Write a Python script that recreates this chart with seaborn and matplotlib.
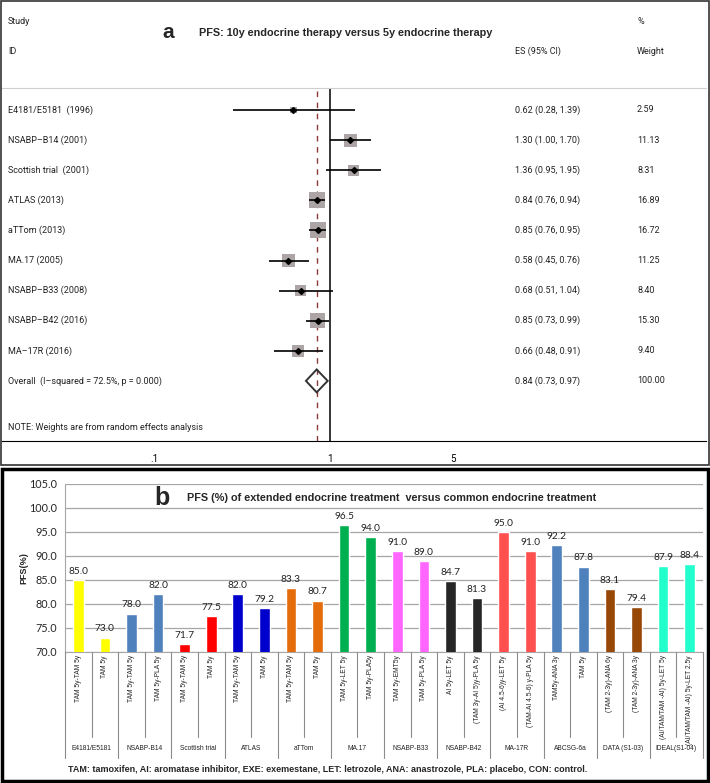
import numpy as np
import pandas as pd
import matplotlib
matplotlib.use("Agg")
import matplotlib.pyplot as plt
import matplotlib.transforms as mtransforms
from matplotlib.lines import Line2D
from matplotlib.patches import Rectangle, Polygon
from matplotlib.ticker import NullLocator
import seaborn as sns

sns.set_style("white")
plt.rcParams['font.family'] = ['Lato', 'DejaVu Sans']

W, H = 710, 783

# ---------- panel a: forest plot ----------
studies = ["E4181/E5181  (1996)", "NSABP–B14 (2001)", "Scottish trial  (2001)",
           "ATLAS (2013)", "aTTom (2013)", "MA.17 (2005)", "NSABP–B33 (2008)",
           "NSABP–B42 (2016)", "MA–17R (2016)"]
es = [0.62, 1.30, 1.36, 0.84, 0.85, 0.58, 0.68, 0.85, 0.66]
ci_lo = [0.28, 1.00, 0.95, 0.76, 0.76, 0.45, 0.51, 0.73, 0.48]
ci_hi = [1.39, 1.70, 1.95, 0.94, 0.95, 0.76, 1.04, 0.99, 0.91]
weights = [2.59, 11.13, 8.31, 16.89, 16.72, 11.25, 8.40, 15.30, 9.40]
overall_label = "Overall  (I–squared = 72.5%, p = 0.000)"
overall = (0.84, 0.73, 0.97)
overall_weight = 100.00
forest_ticks = [0.1, 1, 5]
forest_ticklabels = [".1", "1", "5"]

# ---------- panel b: bar chart ----------
groups = ["E4181/E5181", "NSABP-B14", "Scottish trial", "ATLAS", "aTTom", "MA.17",
          "NSABP-B33", "NSABP-B42", "MA-17R", "ABCSG-6a", "DATA (S1-03)", "IDEAL(S1-04)"]
group_colors = ["#FFFF00", "#4F81BD", "#FF0000", "#0000CC", "#E46C0A", "#00B050",
                "#FF66FF", "#262626", "#FF5050", "#4F81BD", "#974706", "#22FFCC"]
arms = ["TAM 5y-TAM 5y", "TAM 5y",
        "TAM 5y-TAM 5y", "TAM 5y-PLA 5y",
        "TAM 5y-TAM 5y", "TAM 5y",
        "TAM 5y-TAM 5y", "TAM 5y",
        "TAM 5y-TAM 5y", "TAM 5y",
        "TAM 5y-LET 5y", "TAM 5y-PLA5y",
        "TAM 5y-EMT5y", "TAM 5y-PLA 5y",
        "AI 5y-LET 5y", "(TAM 3y-AI 5)y-PLA 5y",
        "(AI 4.5-6)y-LET 5y", "(TAM-AI 4.5-6) y-PLA 5y",
        "TAM5y-ANA 3y", "TAM 5y",
        "(TAM 2-3y)-ANA 6y", "(TAM 2-3y)-ANA 3y",
        "(AI/TAM/TAM -AI) 5y-LET 5y", "(AI/TAM/TAM -AI) 5y-LET 2.5y"]
pfs = [85.0, 73.0, 78.0, 82.0, 71.7, 77.5, 82.0, 79.2, 83.3, 80.7, 96.5, 94.0,
       91.0, 89.0, 84.7, 81.3, 95.0, 91.0, 92.2, 87.8, 83.1, 79.4, 87.9, 88.4]
footnote = ("TAM: tamoxifen, AI: aromatase inhibitor, EXE: exemestane, LET: letrozole, "
            "ANA: anastrozole, PLA: placebo, CON: control.")

FOREST_FONT = ['Liberation Sans Narrow', 'Roboto']
BOLD_FONT = ['Liberation Sans', 'DejaVu Sans']


def fx(px):
    return px / W


def fy(px):
    return 1 - px / H


fig = plt.figure(figsize=(W / 100, H / 100), dpi=100)

# ---- panel a
row0, row_step = 110, 30.1
ax1 = fig.add_axes([fx(2), fy(441), fx(704), (441 - 88) / H])
ax1.set_xscale('log')
ax1.set_xlim(10 ** ((2 - 330) / 176), 10 ** ((706 - 330) / 176))
ax1.set_ylim((441 - row0) / row_step, -(row0 - 88) / row_step)

rows = np.arange(len(studies))
ax1.axvline(1, color='black', lw=1.1, zorder=1)
ax1.axvline(overall[0], color='#8B3A3A', lw=1, ls=(0, (4, 4)), zorder=1)
sns.scatterplot(x=es, y=rows, size=weights, sizes=(7.9 * min(weights), 7.9 * max(weights)),
                size_norm=(min(weights), max(weights)), marker='s', color='#ADA5A5',
                edgecolor='none', legend=False, ax=ax1, zorder=2)
ax1.hlines(rows, ci_lo, ci_hi, color='black', lw=1.2, zorder=3)
ax1.plot(es, rows, 'D', ms=3, color='black', zorder=4)

oy = len(studies)
diamond = Polygon([(overall[1], oy), (overall[0], oy - 0.38), (overall[2], oy),
                   (overall[0], oy + 0.38)], closed=True, fill=False,
                  edgecolor='#333333', lw=1.4, zorder=4)
ax1.add_patch(diamond)

for s in ['left', 'right']:
    ax1.spines[s].set_visible(False)
ax1.spines['top'].set_color('#CFCFCF')
ax1.spines['bottom'].set_color('black')
ax1.set_yticks([])
ax1.set_xticks(forest_ticks)
ax1.set_xticklabels(forest_ticklabels, family=FOREST_FONT, fontsize=7)
ax1.xaxis.set_minor_locator(NullLocator())
ax1.tick_params(axis='x', direction='out', length=6, width=1, colors='black', pad=3)
ax1.patch.set_alpha(0)

trans_a = mtransforms.blended_transform_factory(fig.transFigure, ax1.transData)
labels_a = studies + [overall_label]
es_text = [f"{e:.2f} ({l:.2f}, {h:.2f})" for e, l, h in zip(es, ci_lo, ci_hi)]
es_text.append(f"{overall[0]:.2f} ({overall[1]:.2f}, {overall[2]:.2f})")
w_text = [f"{w:.2f}" for w in weights] + [f"{overall_weight:.2f}"]
for i in range(len(labels_a)):
    ax1.text(fx(8), i, labels_a[i], transform=trans_a, va='center', fontsize=6.5,
             family=FOREST_FONT, color='#222222')
    ax1.text(fx(515), i, es_text[i], transform=trans_a, va='center', fontsize=6.5,
             family=FOREST_FONT, color='#222222')
    ax1.text(fx(637), i, w_text[i], transform=trans_a, va='center', fontsize=6.5,
             family=FOREST_FONT, color='#222222')
ax1.text(fx(8), (427 - row0) / row_step, "NOTE: Weights are from random effects analysis",
         transform=trans_a, va='center', fontsize=6.5, family=FOREST_FONT, color='#222222')

for txt, x, y in [("Study", 8, 21), ("ID", 8, 51), ("%", 637, 21),
                  ("ES (95% CI)", 515, 51), ("Weight", 637, 51)]:
    fig.text(fx(x), fy(y), txt, va='center', fontsize=6.5, family=FOREST_FONT, color='#222222')
fig.text(fx(168), fy(33), "a", ha='center', va='center', fontsize=15, fontweight='bold',
         family=BOLD_FONT)
fig.text(fx(199), fy(33), "PFS: 10y endocrine therapy versus 5y endocrine therapy",
         va='center', fontsize=7.8, fontweight='bold', family=BOLD_FONT)

# ---- panel b
ax2 = fig.add_axes([fx(65), fy(652), fx(703 - 65), (652 - 484) / H])
keys = [f"{g}|{a}|{i}" for i, (g, a) in enumerate(zip(np.repeat(groups, 2), arms))]
df = pd.DataFrame({'key': keys, 'pfs': pfs})
palette = {k: c for k, c in zip(keys, np.repeat(group_colors, 2))}
sns.barplot(data=df, x='key', y='pfs', hue='key', palette=palette, width=0.4,
            saturation=1, legend=False, ax=ax2, zorder=3)
for cont in ax2.containers:
    ax2.bar_label(cont, fmt='%.1f', padding=3, fontsize=7.3, color='#222222')

ax2.set_ylim(70, 105)
ax2.set_xlim(-0.5, len(pfs) - 0.5)
ax2.set_yticks(np.arange(70, 105.1, 5))
ax2.set_yticklabels([f"{v:.1f}" for v in np.arange(70, 105.1, 5)], fontsize=7.8)
ax2.set_xticks([])
ax2.set_xlabel('')
ax2.set_ylabel('PFS(%)', fontsize=6.5, fontweight='bold', family=BOLD_FONT)
ax2.yaxis.set_label_coords((28 - 65) / 638, 0.5)
ax2.yaxis.grid(True, color='#A6A6A6', lw=0.9)
ax2.set_axisbelow(True)
ax2.tick_params(axis='y', direction='out', length=4, color='#A6A6A6', pad=2)
for s in ['top', 'right']:
    ax2.spines[s].set_visible(False)
for s in ['left', 'bottom']:
    ax2.spines[s].set_color('#A6A6A6')

trans_b = mtransforms.blended_transform_factory(ax2.transData, fig.transFigure)
for i, arm in enumerate(arms):
    ax2.text(i, fy(655), arm, transform=trans_b, rotation=90, ha='center', va='top',
             fontsize=4.8, family='Liberation Sans', color='#222222')
for b in np.arange(-0.5, len(arms), 1.0):
    is_group = int(round(b + 0.5)) % 2 == 0
    y_end = 758 if is_group else 737
    fig.add_artist(Line2D([b, b], [fy(652), fy(y_end)], transform=trans_b,
                          color='#8C8C8C', lw=0.8))
for g_i, g in enumerate(groups):
    ax2.text(2 * g_i + 0.5, fy(748), g, transform=trans_b, ha='center', va='center',
             fontsize=4.8, family='Liberation Sans', color='#222222')

fig.text(fx(162), fy(498), "b", ha='center', va='center', fontsize=18, fontweight='bold',
         family=BOLD_FONT)
fig.text(fx(187), fy(498),
         "PFS (%) of extended endocrine treatment  versus common endocrine treatment",
         va='center', fontsize=7.8, fontweight='bold', family=BOLD_FONT)
fig.text(fx(328), fy(770), footnote, ha='center', va='center', fontsize=6.5,
         fontweight='bold', family=BOLD_FONT)

# frames
fig.add_artist(Rectangle((fx(1), fy(465)), fx(708), 464 / H, transform=fig.transFigure,
                         fill=False, edgecolor='#333333', lw=1.2))
fig.add_artist(Rectangle((fx(2), fy(781)), fx(706), 312 / H, transform=fig.transFigure,
                         fill=False, edgecolor='black', lw=2.5))

fig.savefig('out.png', dpi=100, facecolor='white')
